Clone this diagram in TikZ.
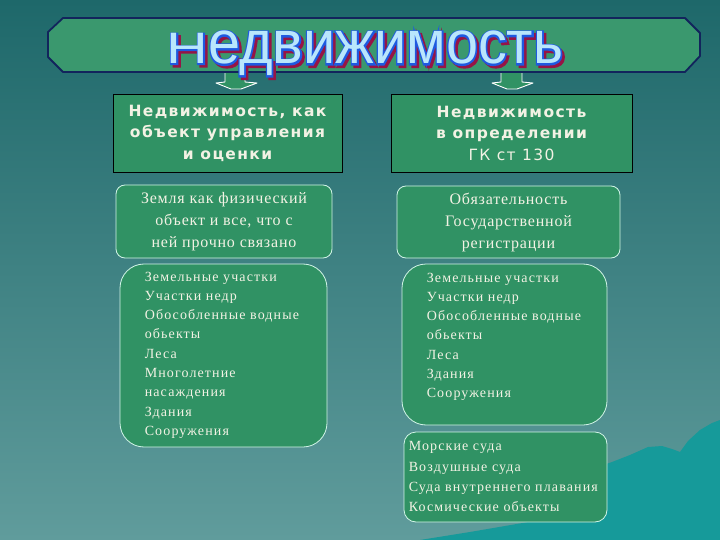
\documentclass[tikz,border=0pt]{standalone}
\usepackage{fontspec}
\usepackage{graphicx}
\setmainfont{Liberation Serif}
\newfontfamily\headfont[LetterSpace=9]{DejaVu Sans}
\newfontfamily\boxfont[LetterSpace=5]{Liberation Serif}
\newfontfamily\listfont[LetterSpace=8]{Liberation Serif}
\newfontfamily\titlefont{Liberation Sans}
\newfontfamily\titlerimfont[FakeBold=5]{Liberation Sans}
\usetikzlibrary{positioning}

\definecolor{bgtop}{RGB}{30,104,106}
\definecolor{bgbottom}{RGB}{96,156,156}
\definecolor{hill}{RGB}{22,154,154}
\definecolor{boxgreen}{RGB}{48,146,100}
\definecolor{bannergreen}{RGB}{58,152,110}
\definecolor{navy}{RGB}{18,36,92}
\definecolor{paper}{RGB}{242,242,228}
\definecolor{rim}{RGB}{210,245,232}
\definecolor{wordfill}{RGB}{185,230,252}
\definecolor{wordline}{RGB}{30,90,225}
\definecolor{wordshadow}{RGB}{150,20,70}

\newcommand\titleword{\scalebox{1.31}[1]{Н\scalebox{1}[1.38]{едвижимость}}}

\begin{document}
\begin{tikzpicture}[x=1pt,y=-1pt,
  title ink/.style={font=\titlefont\fontsize{44}{44}\selectfont,inner sep=0pt,anchor=base},
  title rim/.style={title ink,font=\titlerimfont\fontsize{44}{44}\selectfont},
  head box/.style={draw=black,line width=0.8pt,fill=boxgreen,text=paper,align=center,
    font=\headfont\bfseries\fontsize{15.5}{21.5}\selectfont,minimum height=78pt,inner sep=0pt},
  text box/.style={draw=rim,line width=0.8pt,fill=boxgreen,rounded corners=9pt,text=paper,
    align=center,font=\boxfont\fontsize{16}{22}\selectfont,inner sep=0pt},
  list box/.style={draw=rim,line width=0.8pt,fill=boxgreen,rounded corners=24pt},
  list text/.style={text=paper,align=left,inner sep=0pt,font=\listfont\fontsize{14}{19.3}\selectfont},
  block arrow/.style={draw=white,line width=0.9pt,fill=boxgreen,line join=round}]

  % background and hill
  \shade[top color=bgtop,bottom color=bgbottom] (0,0) rectangle (720,540);
  \fill[hill] (420,540) -- (470,532) -- (540,520) -- (600,466) -- (612,462) -- (630,455)
    -- (648,447) -- (662,446) -- (672,449) -- (680,452) -- (688,441) -- (700,430)
    -- (712,423) -- (720,420) -- (720,540) -- cycle;

  % arrows under the banner
  \draw[block arrow] (225,70) -- (245,70) -- (245,82) -- (257,83) -- (241,89) -- (231,89)
    -- (216,83) -- (225,82) -- cycle;
  \draw[block arrow] (501,70) -- (522,70) -- (522,82) -- (533,83) -- (517,89) -- (507,89)
    -- (492,83) -- (501,82) -- cycle;

  % banner
  \draw[fill=bannergreen,draw=navy,line width=1.8pt,line join=round]
    (63,18) -- (685,18) -- (700,33) -- (700,56) -- (685,72) -- (63,72) -- (48,57) -- (48,32) -- cycle;

  % title with outline and shadow
  \node[title rim,text=wordshadow] (shadow) at (367.5,66.5) {\titleword};
  \node[title rim,text=wordline] (outline) at (365,64) {\titleword};
  \node[title ink,text=wordfill] (title) at (365,64) {\titleword};

  % headings
  \node[head box,minimum width=229pt] (ownhead) at (227.5,133) {Недвижимость, как\\объект управления\\и оценки};
  \node[head box,minimum width=241pt] (lawhead) at (511.5,133) {Недвижимость\\в определении\\{\mdseries ГК ст 130}};

  \node[text box,minimum width=216pt,minimum height=73pt] (land) at (224,221.5)
    {Земля как физический\\объект и все, что с\\ней прочно связано};
  \node[text box,minimum width=223pt,minimum height=72pt] (reg) at (508.5,222)
    {Обязательность\\Государственной\\регистрации};

  % lists
  \node[list box,minimum width=207pt,minimum height=183pt] (ownlist) at (223.5,355.5) {};
  \node[list text,below right=8pt and 25pt of ownlist.north west] (ownitems)
    {Земельные участки\\Участки недр\\Обособленные водные\\обьекты\\Леса\\Многолетние\\насаждения\\Здания\\Сооружения};

  \node[list box,minimum width=205pt,minimum height=161pt] (lawlist) at (504.5,344.5) {};
  \node[list text,below right=9pt and 25pt of lawlist.north west] (lawitems)
    {Земельные участки\\Участки недр\\Обособленные водные\\обьекты\\Леса\\Здания\\Сооружения};

  \node[list box,rounded corners=12pt,minimum width=203pt,minimum height=90pt] (craft) at (505.5,477) {};
  \node[list text,below right=10pt and 5pt of craft.north west,
    font=\listfont\fontsize{14}{20.3}\selectfont] (craftitems)
    {Морские суда\\Воздушные суда\\Суда внутреннего плавания\\Космические объекты};
\end{tikzpicture}
\end{document}
